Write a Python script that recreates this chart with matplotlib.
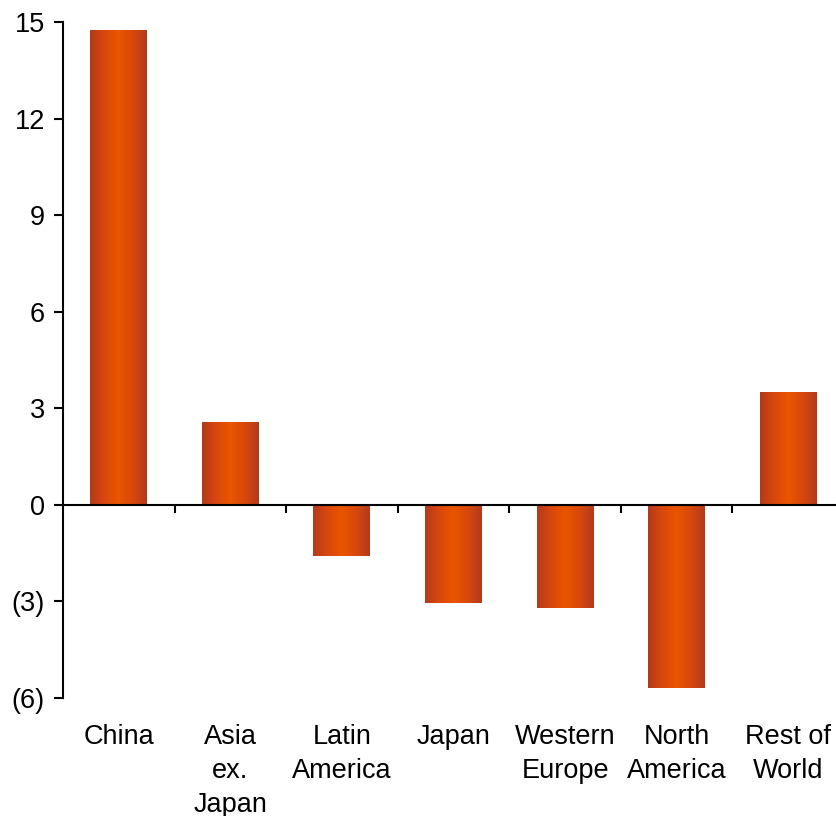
import matplotlib.pyplot as plt
import numpy as np
from matplotlib.colors import LinearSegmentedColormap
from matplotlib.transforms import blended_transform_factory

plt.rcParams['font.family'] = ['Liberation Sans', 'DejaVu Sans']

# data
regions = ['China', 'Asia\nex.\nJapan', 'Latin\nAmerica', 'Japan',
           'Western\nEurope', 'North\nAmerica', 'Rest of\nWorld']
values = [14.75, 2.55, -1.6, -3.05, -3.2, -5.68, 3.48]
yticks = [-6, -3, 0, 3, 6, 9, 12, 15]
ytick_labels = ['(6)', '(3)', '0', '3', '6', '9', '12', '15']

fig = plt.figure(figsize=(8.37, 8.16), dpi=100)
ax = fig.add_axes([63 / 837, 118 / 816, 781 / 837, 676 / 816])

# shaded bars: dark edges, bright orange middle
cmap = LinearSegmentedColormap.from_list(
    'bar', ['#b33a1c', '#d8480e', '#ea5500', '#d8480e', '#b33a1c'])
grad = np.linspace(0, 1, 256).reshape(1, -1)
width = 0.51
x = np.arange(len(regions))
for xi, v in zip(x, values):
    ax.imshow(grad, extent=[xi - width / 2, xi + width / 2, min(0, v), max(0, v)],
              aspect='auto', cmap=cmap, zorder=2, interpolation='bicubic')

ax.set_xlim(-0.5, len(regions) - 0.5)
ax.set_ylim(-6, 15)

# axes styling
ax.spines['top'].set_visible(False)
ax.spines['right'].set_visible(False)
ax.spines['bottom'].set_position(('data', 0))
ax.spines['bottom'].set_linewidth(1.5)
ax.spines['left'].set_linewidth(1.5)
ax.spines['bottom'].set_zorder(3)

ax.set_yticks(yticks)
ax.set_yticklabels(ytick_labels, fontsize=19.5)
ax.tick_params(axis='y', direction='out', length=6.5, width=1.5, pad=6.5)

ax.set_xticks(x[:-1] + 0.5)
ax.set_xticklabels([])
ax.tick_params(axis='x', direction='out', length=6, width=1.5)

# category labels under the plot area
trans = blended_transform_factory(ax.transData, ax.transAxes)
for xi, name in zip(x, regions):
    ax.text(xi, -0.038, name, transform=trans, ha='center', va='top',
            fontsize=19.5, linespacing=1.4)

fig.savefig('out.png', dpi=100)
